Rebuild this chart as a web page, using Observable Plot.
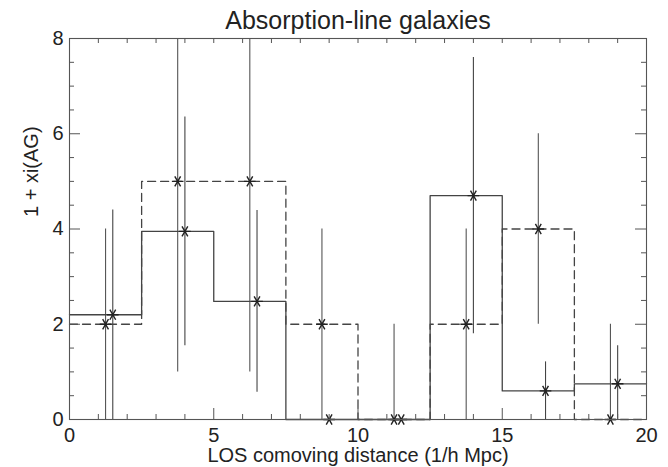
<!DOCTYPE html>
<html><head><meta charset="utf-8">
<script src="https://cdn.jsdelivr.net/npm/d3@7"></script>
<script src="https://cdn.jsdelivr.net/npm/@observablehq/plot@0.6"></script>
<style>body{margin:0;background:#fff} svg{overflow:visible}</style>
</head><body><div id="chart"></div>
<script>
const titleText = "Absorption-line galaxies";
const xLabel = "LOS comoving distance (1/h Mpc)";
const yLabel = "1 + xi(AG)";
const binEdges = [0, 2.5, 5, 7.5, 10, 12.5, 15, 17.5, 20];
const dashedValues = [2, 5, 5, 2, 0, 2, 4, 0];
const solidValues = [2.2, 3.95, 2.48, 0, 0, 4.7, 0.6, 0.75];
const dashedX = [1.25, 3.75, 6.25, 8.75, 11.25, 13.75, 16.25, 18.75];
const dashedLow = [0, 1, 1, 0, 0, 0, 2, 0];
const dashedHigh = [4, 9, 9, 4, 2, 4, 6, 2];
const solidX = [1.5, 4, 6.5, 9, 11.5, 14, 16.5, 19];
const solidLow = [0, 1.55, 0.57, 0, 0, 1.8, 0, 0];
const solidHigh = [4.4, 6.35, 4.39, 0, 0, 7.6, 1.21, 1.55];
const xTicks = [0, 5, 10, 15, 20];
const yTicks = [0, 2, 4, 6, 8];
const xMinorTicks = [1, 2, 3, 4, 6, 7, 8, 9, 11, 12, 13, 14, 16, 17, 18, 19];
const yMinorTicks = [0.5, 1, 1.5, 2.5, 3, 3.5, 4.5, 5, 5.5, 6.5, 7, 7.5];

const W = 668, H = 467, mT = 38, mR = 22, mB = 48, mL = 69;
const pw = W - mL - mR, ph = H - mT - mB;
const ink = "#444";

const steps = vals => binEdges.map((e, i) => ({x: e, y: vals[Math.min(i, vals.length - 1)]}));
const pts = (xs, ys, lo, hi) => xs.map((x, i) => ({x, y: ys[i], lo: lo[i], hi: hi[i]}));
const dashedPts = pts(dashedX, dashedValues, dashedLow, dashedHigh);
const solidPts = pts(solidX, solidValues, solidLow, solidHigh);
const allX = [...xTicks, ...xMinorTicks];

const chart = Plot.plot({
  width: W, height: H,
  marginTop: mT, marginRight: mR, marginBottom: mB, marginLeft: mL,
  style: {fontFamily: "'Liberation Sans', Arial, Helvetica, sans-serif", fontSize: "20px", background: "#fff", color: "#222"},
  x: {domain: [0, 20], axis: null},
  y: {domain: [0, 8], axis: null},
  marks: [
    // error bars
    Plot.ruleX(dashedPts, {x: "x", y1: "lo", y2: "hi", stroke: "#555", strokeWidth: 1.1, clip: true}),
    Plot.ruleX(solidPts, {x: "x", y1: "lo", y2: "hi", stroke: "#444", strokeWidth: 1.1, clip: true}),
    // histograms
    Plot.line(steps(dashedValues), {x: "x", y: "y", curve: "step-after", stroke: ink, strokeWidth: 1.3, strokeDasharray: "8,5"}),
    Plot.line(steps(solidValues), {x: "x", y: "y", curve: "step-after", stroke: ink, strokeWidth: 1.3}),
    // markers
    Plot.dot(dashedPts, {x: "x", y: "y", symbol: "asterisk", r: 5.5, rotate: 90, stroke: "#222", strokeWidth: 1.4}),
    Plot.dot(solidPts, {x: "x", y: "y", symbol: "asterisk", r: 5.5, rotate: 90, stroke: "#222", strokeWidth: 1.4}),
    // frame
    Plot.frame({stroke: "#555", strokeWidth: 1.1}),
    // ticks: bottom
    Plot.tickX(xTicks, {x: d => d, insetTop: ph - 11, stroke: "#555"}),
    Plot.tickX(xMinorTicks, {x: d => d, insetTop: ph - 5, stroke: "#555"}),
    // top
    Plot.tickX(allX, {x: d => d, insetBottom: ph - 5, stroke: "#555"}),
    // left
    Plot.tickY(yTicks, {y: d => d, insetRight: pw - 11, stroke: "#555"}),
    Plot.tickY(yMinorTicks, {y: d => d, insetRight: pw - 5, stroke: "#555"}),
    // right
    Plot.tickY(yTicks, {y: d => d, insetLeft: pw - 11, stroke: "#555"}),
    Plot.tickY(yMinorTicks, {y: d => d, insetLeft: pw - 5, stroke: "#555"}),
    // tick labels
    Plot.axisX({ticks: xTicks, tickSize: 0, tickPadding: 8, label: null, fontSize: 20}),
    Plot.axisY({ticks: yTicks, tickSize: 0, tickPadding: 6, label: null, fontSize: 20}),
    // axis titles
    Plot.text([xLabel], {text: d => d, frameAnchor: "bottom", dy: 36, fontSize: 20, lineAnchor: "middle"}),
    Plot.text([yLabel], {text: d => d, frameAnchor: "left", dx: -38, dy: -12, rotate: -90, fontSize: 20, lineAnchor: "middle"}),
    Plot.text([titleText], {text: d => d, frameAnchor: "top", dy: -18, fontSize: 25, lineAnchor: "middle"})
  ]
});
document.getElementById("chart").appendChild(chart);
</script>
</body></html>
